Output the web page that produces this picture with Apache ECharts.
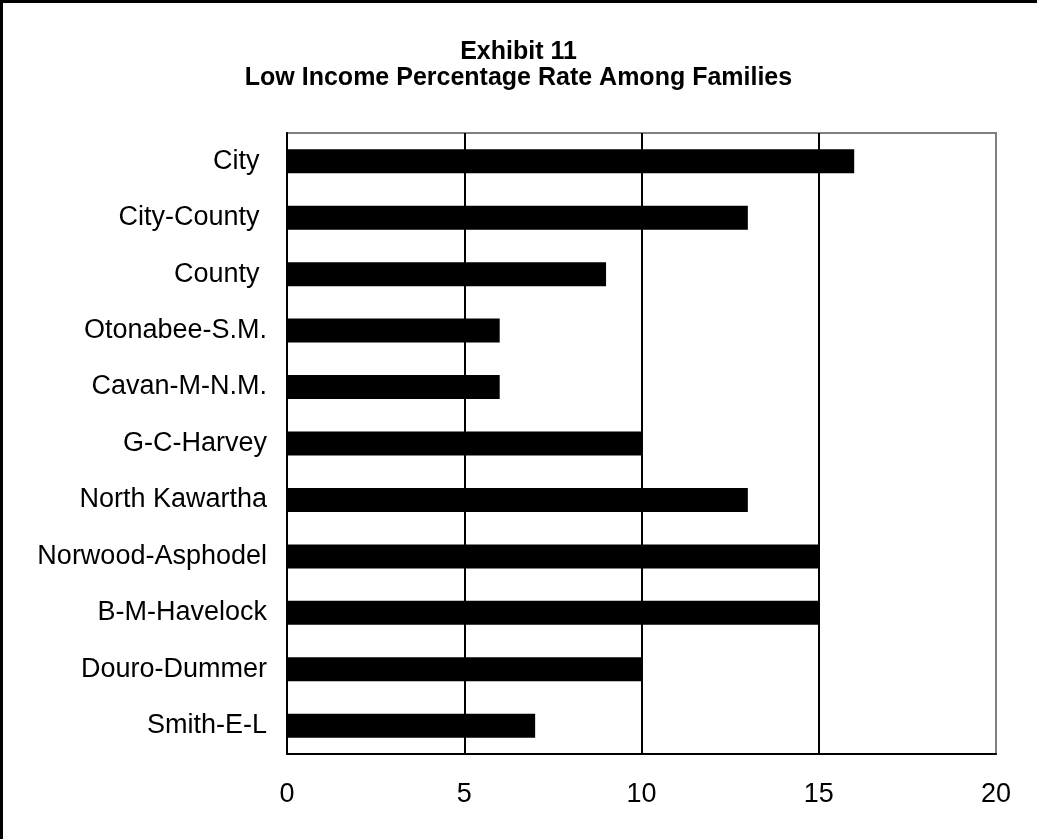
<!DOCTYPE html>
<html>
<head>
<meta charset="utf-8">
<script src="https://cdn.jsdelivr.net/npm/echarts@6/dist/echarts.min.js"></script>
<style>
  html, body { margin: 0; padding: 0; background: #fff; }
  #chart { width: 1037px; height: 839px; }
</style>
</head>
<body>
<div id="chart"></div>
<script>
// Area names, top to bottom (trailing spaces kept as in the source labels)
const categories = [
  'City ', 'City-County ', 'County ', 'Otonabee-S.M.', 'Cavan-M-N.M.',
  'G-C-Harvey', 'North Kawartha', 'Norwood-Asphodel', 'B-M-Havelock',
  'Douro-Dummer', 'Smith-E-L'
];
// Low income rate among families, percent
const lowIncomeRate = [16, 13, 9, 6, 6, 10, 13, 15, 15, 10, 7];
// Value axis range and step
const axisMin = 0;
const axisMax = 20;
const axisStep = 5;

const chart = echarts.init(document.getElementById('chart'));
const FONT = '"Liberation Sans", Arial, sans-serif';

chart.setOption({
  animation: false,
  backgroundColor: '#fff',
  title: {
    text: 'Exhibit 11\nLow Income Percentage Rate Among Families',
    left: 'center',
    top: 34,
    textStyle: {
      fontFamily: FONT,
      fontWeight: 'bold',
      fontSize: 25,
      lineHeight: 26,
      color: '#000'
    }
  },
  grid: {
    left: 287,
    right: 41,
    top: 133,
    bottom: 85,
    show: true,
    borderColor: '#808080',
    borderWidth: 2,
    containLabel: false
  },
  xAxis: {
    type: 'value',
    min: axisMin,
    max: axisMax,
    interval: axisStep,
    axisLine: { show: true, lineStyle: { color: '#000', width: 2 } },
    axisTick: { show: false },
    axisLabel: {
      margin: 27,
      fontFamily: FONT,
      fontSize: 27,
      color: '#000'
    },
    splitLine: {
      show: true,
      lineStyle: { color: ['#000', '#000', '#000', '#000', '#808080'], width: 2 }
    }
  },
  yAxis: {
    type: 'category',
    data: categories,
    inverse: true,
    axisLine: { show: true, lineStyle: { color: '#000', width: 2 } },
    axisTick: { show: false },
    axisLabel: {
      margin: 20,
      fontFamily: FONT,
      fontSize: 27,
      color: '#000'
    },
    splitLine: { show: false }
  },
  series: [{
    type: 'bar',
    data: lowIncomeRate,
    barWidth: 24,
    itemStyle: { color: '#000' },
    z: 3
  }],
  graphic: [
    // frame around the exhibit (left and top edges)
    { type: 'rect', shape: { x: 0, y: 0, width: 3, height: 839 }, style: { fill: '#000' }, z: 100 },
    { type: 'rect', shape: { x: 0, y: 0, width: 1037, height: 3 }, style: { fill: '#000' }, z: 100 }
  ]
});
</script>
</body>
</html>
